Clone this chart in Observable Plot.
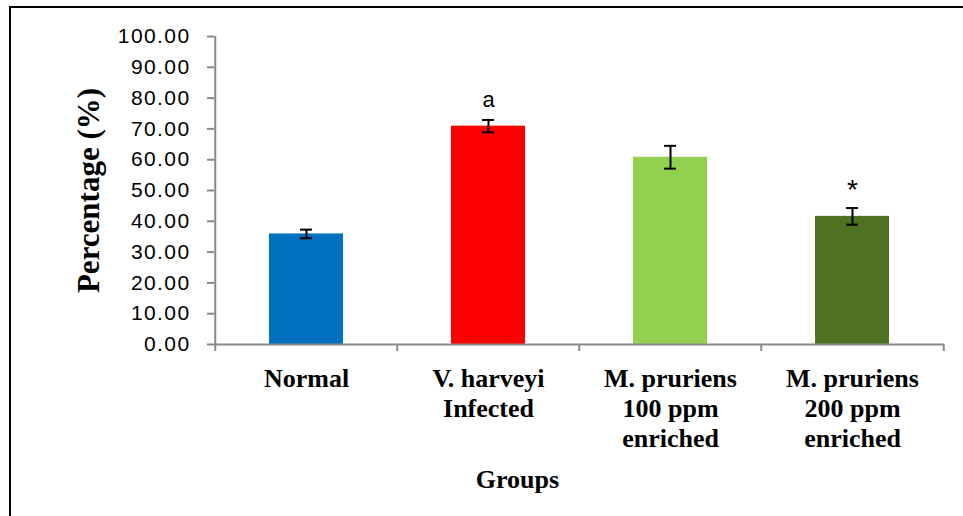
<!DOCTYPE html>
<html>
<head>
<meta charset="utf-8">
<script src="https://cdn.jsdelivr.net/npm/d3@7"></script>
<script src="https://cdn.jsdelivr.net/npm/@observablehq/plot@0.6"></script>
<style>
  html, body { margin: 0; padding: 0; background: #fff; }
  #wrap { position: relative; width: 963px; height: 516px; overflow: hidden; }
  #border { position: absolute; left: 9px; top: 6px; width: 1000px; height: 600px;
            border-left: 2px solid #000; border-top: 2px solid #000; pointer-events: none; }
  #chart svg { display: block; overflow: visible; }
  g[aria-label="y-axis tick label"], g[aria-label="y-axis tick label"] text {
    letter-spacing: 1.4px; font-family: "Liberation Sans", Arial, sans-serif !important;
  }
  g[aria-label="x-axis tick label"], g[aria-label="x-axis tick label"] text,
  .serif-bold, .serif-bold text {
    font-family: "Liberation Serif", "Times New Roman", serif !important; font-weight: bold !important;
  }
</style>
</head>
<body>
<div id="wrap">
  <div id="chart"></div>
  <div id="border"></div>
</div>
<script>
// Groups compared, with mean percentage and error (±) for each
const groups = ["Normal", "V. harveyi Infected", "M. pruriens 100 ppm enriched", "M. pruriens 200 ppm enriched"];
const groupLabels = ["Normal", "V. harveyi\nInfected", "M. pruriens\n100 ppm\nenriched", "M. pruriens\n200 ppm\nenriched"];
const means = [35.9, 70.9, 60.8, 41.6];
const errors = [1.4, 2.0, 3.7, 2.7];
const significance = ["", "a", "", "*"];
const barColors = ["#0070C0", "#FF0000", "#92D050", "#4E7221"];
const yTicks = [0, 10, 20, 30, 40, 50, 60, 70, 80, 90, 100];

const data = groups.map((g, i) => ({
  group: g,
  mean: means[i],
  lo: means[i] - errors[i],
  hi: means[i] + errors[i],
  sig: significance[i]
}));

const W = 963, H = 516;
const mL = 214, mR = 19, mT = 36, mB = 172;
const step = (W - mL - mR) / groups.length;
const axisGray = "#898989";

const chart = Plot.plot({
  width: W,
  height: H,
  marginLeft: mL,
  marginRight: mR,
  marginTop: mT,
  marginBottom: mB,
  style: { background: "transparent", color: "#000" },
  x: { domain: groups, paddingInner: 0.595, paddingOuter: 0.2975, axis: null },
  y: { domain: [0, 100], axis: null },
  color: { domain: groups, range: barColors },
  marks: [
    Plot.barY(data, { x: "group", y: "mean", fill: "group" }),
    // vertical axis line
    Plot.ruleX([groups[0]], { y1: 0, y2: 100, dx: -step / 2, stroke: axisGray, strokeWidth: 2 }),
    // horizontal axis line
    Plot.ruleY([0], { stroke: axisGray, strokeWidth: 2 }),
    // category boundary ticks
    Plot.ruleX(groups, { y1: 0, y2: 0, insetBottom: -7, dx: -step / 2, stroke: axisGray, strokeWidth: 2 }),
    Plot.ruleX([groups[groups.length - 1]], { y1: 0, y2: 0, insetBottom: -7, dx: step / 2, stroke: axisGray, strokeWidth: 2 }),
    // y axis ticks and labels
    Plot.axisY({
      ticks: yTicks,
      tickFormat: d => d.toFixed(2),
      tickSize: 7,
      tickPadding: 17,
      stroke: axisGray,
      strokeWidth: 2,
      fill: "#000",
      fontSize: 21,
      label: null
    }),
    // x axis category labels
    Plot.axisX({
      tickSize: 0,
      tickPadding: 21,
      tickFormat: d => groupLabels[groups.indexOf(d)],
      fontSize: 26,
      fontWeight: "bold",
      lineHeight: 1.16,
      fill: "#000",
      label: null
    }),
    // error bars
    Plot.ruleX(data, { x: "group", y1: "lo", y2: "hi", stroke: "#000", strokeWidth: 2 }),
    Plot.tickY(data, { x: "group", y: "lo", stroke: "#000", strokeWidth: 2, insetLeft: 31, insetRight: 31 }),
    Plot.tickY(data, { x: "group", y: "hi", stroke: "#000", strokeWidth: 2, insetLeft: 31, insetRight: 31 }),
    // significance markers
    Plot.text(data.filter(d => d.sig === "a"), {
      x: "group", y: "hi", text: "sig", dy: -20,
      fontSize: 22, fontFamily: "Liberation Sans, Arial, sans-serif", fill: "#000"
    }),
    Plot.text(data.filter(d => d.sig === "*"), {
      x: "group", y: "hi", text: "sig", dy: -18,
      fontSize: 28, fontFamily: "Liberation Sans, Arial, sans-serif", fill: "#000"
    }),
    // axis titles
    Plot.text(["Percentage (%)"], {
      frameAnchor: "left", textAnchor: "middle", rotate: -90, dx: -125,
      fontSize: 31, className: "serif-bold", fill: "#000"
    }),
    Plot.text(["Groups"], {
      frameAnchor: "bottom", textAnchor: "middle", lineAnchor: "middle", dy: 135, dx: -62,
      fontSize: 26, className: "serif-bold", fill: "#000"
    })
  ]
});

document.getElementById("chart").append(chart);
</script>
</body>
</html>
